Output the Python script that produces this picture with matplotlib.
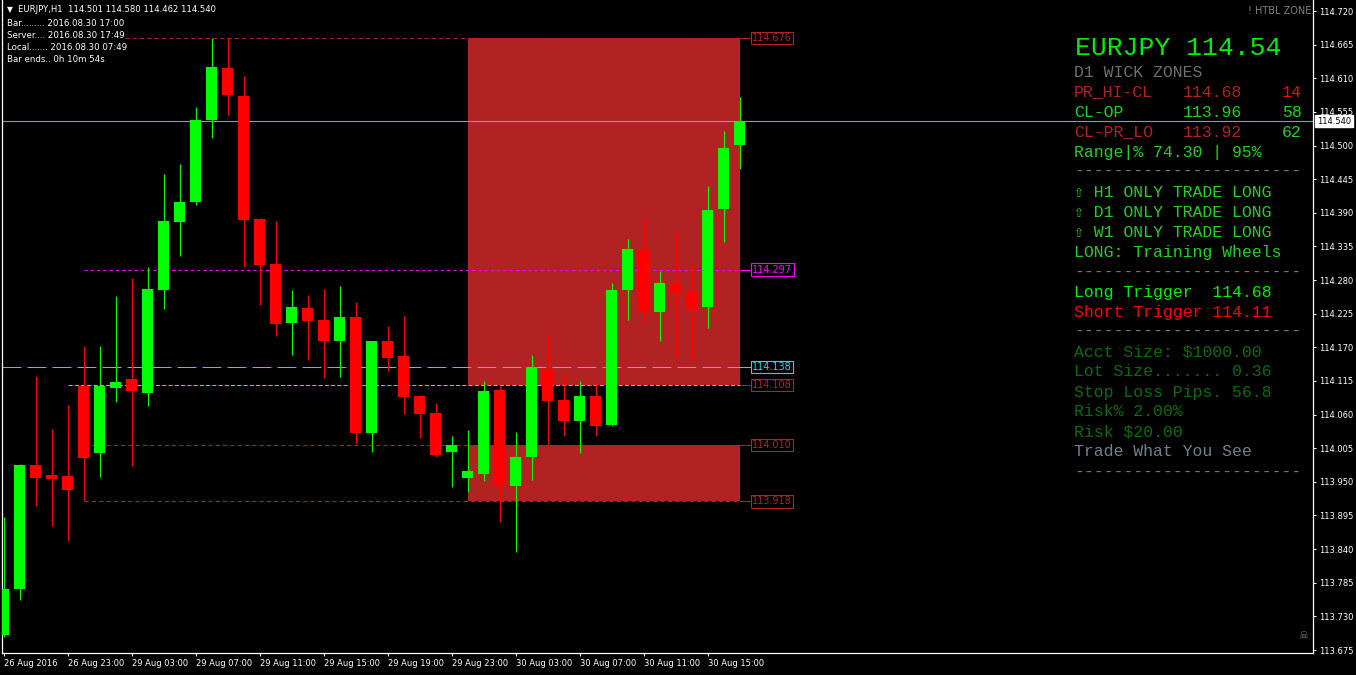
import matplotlib
matplotlib.use('Agg')
import matplotlib.pyplot as plt
from matplotlib.patches import Rectangle
import numpy as np

# EURJPY H1 bars, 26 Aug 19:00 -> 30 Aug 17:00
opens = [113.699, 113.774, 113.977, 113.961, 113.959, 114.107, 113.997, 114.104, 114.118, 114.095,
         114.264, 114.375, 114.408, 114.541, 114.627, 114.581, 114.380, 114.306, 114.210, 114.234,
         114.215, 114.180, 114.220, 114.030, 114.180, 114.156, 114.090, 114.063, 113.998, 113.957,
         113.963, 114.100, 113.944, 113.991, 114.135, 114.084, 114.050, 114.090, 114.043, 114.264,
         114.331, 114.228, 114.275, 114.261, 114.236, 114.397, 114.501]
highs = [113.892, 113.979, 114.123, 114.036, 114.075, 114.172, 114.172, 114.254, 114.283, 114.301,
         114.454, 114.469, 114.563, 114.676, 114.676, 114.614, 114.381, 114.377, 114.264, 114.256,
         114.265, 114.270, 114.244, 114.181, 114.205, 114.221, 114.092, 114.079, 114.025, 114.035,
         114.115, 114.107, 114.032, 114.157, 114.191, 114.128, 114.115, 114.114, 114.275, 114.347,
         114.380, 114.295, 114.359, 114.303, 114.434, 114.524, 114.580]
lows = [113.697, 113.756, 113.910, 113.877, 113.853, 113.918, 113.958, 114.081, 113.976, 114.074,
        114.233, 114.319, 114.403, 114.513, 114.550, 114.301, 114.239, 114.189, 114.157, 114.149,
        114.120, 114.121, 114.012, 113.999, 114.132, 114.061, 114.022, 113.990, 113.942, 113.933,
        113.951, 113.884, 113.835, 113.953, 114.010, 114.025, 113.997, 114.025, 114.042, 114.215,
        114.210, 114.180, 114.154, 114.148, 114.202, 114.343, 114.462]
closes = [113.774, 113.977, 113.956, 113.955, 113.937, 113.989, 114.107, 114.114, 114.099, 114.265,
          114.376, 114.408, 114.541, 114.628, 114.583, 114.378, 114.305, 114.208, 114.236, 114.213,
          114.180, 114.220, 114.030, 114.180, 114.153, 114.089, 114.061, 113.994, 114.010, 113.968,
          114.099, 113.944, 113.991, 114.137, 114.083, 114.050, 114.090, 114.042, 114.264, 114.331,
          114.229, 114.275, 114.259, 114.233, 114.395, 114.496, 114.540]

time_labels = ['26 Aug 2016', '26 Aug 23:00', '29 Aug 03:00', '29 Aug 07:00', '29 Aug 11:00',
               '29 Aug 15:00', '29 Aug 19:00', '29 Aug 23:00', '30 Aug 03:00', '30 Aug 07:00',
               '30 Aug 11:00', '30 Aug 15:00']
price_ticks = [114.720, 114.665, 114.610, 114.555, 114.500, 114.445, 114.390, 114.335, 114.280,
               114.225, 114.170, 114.115, 114.060, 114.005, 113.950, 113.895, 113.840, 113.785,
               113.730, 113.675]

# wick zones (top, bottom) drawn from bar 29 to the last bar
zones = [(114.676, 114.108), (114.010, 113.918)]
zone_from = 29

levels = [114.676, 114.297, 114.138, 114.108, 114.010, 113.918]
level_start = [7.6, 5, -0.1, 4, 5, 5]
level_line_col = ['#B22222', '#FF00FF', '#00E5EE', '#FFA500', '#B22222', '#B22222']
level_lbl_col = ['#B22222', '#FF00FF', '#00E5EE', '#B22222', '#B22222', '#B22222']
level_dash = [(4, 3), (3, 3), (18, 6), (4, 2), (4, 3), (4, 3)]

W, H = 1356, 675
fig = plt.figure(figsize=(W / 100, H / 100), dpi=100, facecolor='black')
ax = fig.add_axes([2 / W, 22 / H, 1311 / W, 653 / H])
ax.set_facecolor('black')

n = len(closes)
idx = np.arange(n)
o = np.array(opens); c = np.array(closes)
cols = ['#00FF00' if c[i] >= o[i] else '#FF0000' for i in range(n)]

last = n - 1
for top, bot in zones:
    ax.add_patch(Rectangle((zone_from, bot), last - zone_from, top - bot,
                           facecolor='#B22222', edgecolor='none', zorder=1))

for lv, st, lc, bc, ds in zip(levels, level_start, level_line_col, level_lbl_col, level_dash):
    ax.plot([st, last], [lv, lv], color=lc, lw=0.75, dashes=ds, zorder=2)
    ax.plot([last, last + 0.72], [lv, lv], color=bc, lw=0.75, zorder=2)
    ax.text(last + 0.8, lv, f'{lv:.3f}', color=bc, fontsize=7, va='center', ha='left',
            bbox=dict(facecolor='black', edgecolor=bc, pad=0.9, linewidth=0.8), zorder=5)

ax.vlines(idx, lows, highs, colors=cols, linewidth=0.8, zorder=3)
ax.bar(idx, np.maximum(np.abs(c - o), 0.0008), bottom=np.minimum(o, c), width=0.69,
       color=cols, linewidth=0, zorder=4)

# bid line + price tag
ax.axhline(closes[-1], color='#8B9BAB', lw=0.8, zorder=2)
ax.text(1.003, closes[-1], f'{closes[-1]:.3f}', transform=ax.get_yaxis_transform(),
        color='black', fontsize=6, va='center', ha='left',
        bbox=dict(facecolor='white', edgecolor='white', pad=1.2), zorder=6, clip_on=False)

ax.set_xlim(-0.094, 81.84)
ax.set_ylim(113.6701, 114.738)

ax.yaxis.tick_right()
ax.set_yticks(price_ticks)
ax.set_yticklabels([f'{p:.3f}' for p in price_ticks])
ax.set_xticks(list(range(0, 48, 4)))
ax.set_xticklabels(time_labels, ha='left')
ax.tick_params(axis='y', colors='white', labelsize=6, length=2.5, width=0.7, pad=2)
ax.tick_params(axis='x', colors='white', labelsize=6, length=2.5, width=0.7, pad=1.5)
for s in ['left', 'right', 'bottom']:
    ax.spines[s].set_color('white')
    ax.spines[s].set_linewidth(0.9)
ax.spines['top'].set_visible(False)


def ft(x, y, s, color, size, family='DejaVu Sans', **kw):
    fig.text(x / W, 1 - y / H, s, color=color, fontsize=size, family=family,
             va='center', ha=kw.pop('ha', 'left'), **kw)


# header
ft(10, 10, '▼', 'white', 5.5, ha='center')
ft(18, 10, 'EURJPY,H1  %.3f %.3f %.3f %.3f' % (opens[-1], highs[-1], lows[-1], closes[-1]), 'white', 6.1)
ft(7, 23, 'Bar......... 2016.08.30 17:00', 'white', 6.2)
ft(7, 35, 'Server.... 2016.08.30 17:49', 'white', 6.2)
ft(7, 47, 'Local....... 2016.08.30 07:49', 'white', 6.2)
ft(7, 59.5, 'Bar ends.. 0h 10m 54s', 'white', 6.2)
ft(1311, 11, '! HTBL ZONE', '#808080', 7, ha='right')
ft(1303, 636, '☠', '#7A7A6A', 8, ha='center')

# info panel
mono = ['Liberation Mono', 'DejaVu Sans Mono', 'DejaVu Sans']
green = '#1ED21E'
lime = '#00F000'
fire = '#B22222'
dk = '#0B6B0B'
gray = '#7A7A7A'
x0, cw, fs = 1074, 9.9, 11.9
dashes = '-' * 23

ft(1075, 48, 'EURJPY %.2f' % closes[-1], lime, 19, family=mono)
ft(x0, 72.7, 'D1 WICK ZONES', '#6E6E6E', fs, family=mono)
for y, name, val, num, c1, c2 in [(92.7, 'PR_HI-CL', '114.68', '14', fire, '#FF0000'),
                                  (112.7, 'CL-OP', '113.96', '58', green, green),
                                  (132.7, 'CL-PR_LO', '113.92', '62', fire, green)]:
    ft(x0, y, name, c1, fs, family=mono)
    ft(x0 + 11 * cw, y, val, c1, fs, family=mono)
    ft(x0 + 21 * cw, y, num, c2, fs, family=mono)
ft(x0, 152.7, 'Range|% 74.30 | 95%', green, fs, family=mono)
ft(x0, 171.7, dashes, gray, fs, family=mono)
ft(x0, 192.3, '⇧ H1 ONLY TRADE LONG', green, fs, family=mono)
ft(x0, 212.3, '⇧ D1 ONLY TRADE LONG', green, fs, family=mono)
ft(x0, 232.3, '⇧ W1 ONLY TRADE LONG', green, fs, family=mono)
ft(x0, 252.3, 'LONG: Training Wheels', green, fs, family=mono)
ft(x0, 272, dashes, gray, fs, family=mono)
ft(x0, 292.7, 'Long Trigger  114.68', lime, fs, family=mono)
ft(x0, 312.7, 'Short Trigger 114.11', '#FF0000', fs, family=mono)
ft(x0, 331.7, dashes, gray, fs, family=mono)
ft(x0, 352, 'Acct Size: $1000.00', dk, fs, family=mono)
ft(x0, 372, 'Lot Size....... 0.36', dk, fs, family=mono)
ft(x0, 392, 'Stop Loss Pips. 56.8', dk, fs, family=mono)
ft(x0, 412, 'Risk% 2.00%', dk, fs, family=mono)
ft(x0, 432, 'Risk $20.00', dk, fs, family=mono)
ft(x0, 452, 'Trade What You See', '#708090', fs, family=mono)
ft(x0, 472, dashes, gray, fs, family=mono)

fig.savefig('out.png', dpi=100, facecolor='black')
